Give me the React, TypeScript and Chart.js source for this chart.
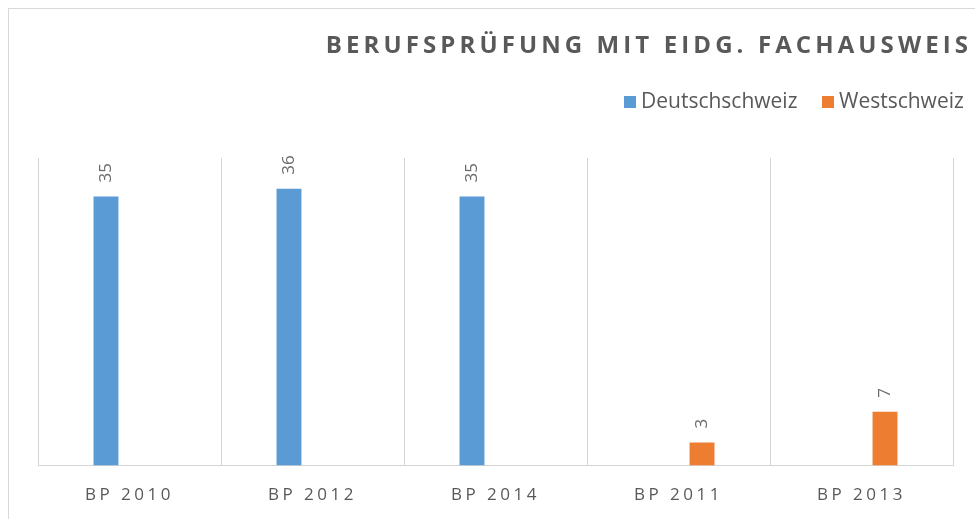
import React, { useEffect, useRef } from "react";
import { Chart, registerables } from "chart.js";

Chart.register(...registerables);

const categories = ["BP 2010", "BP 2012", "BP 2014", "BP 2011", "BP 2013"];
const deutschschweiz = [35, 36, 35, null, null];
const westschweiz = [null, null, null, 3, 7];
const seriesNames = ["Deutschschweiz", "Westschweiz"];
const seriesColors = ["#5B9BD5", "#ED7D31"];
const chartTitle = "BERUFSPRÜFUNG MIT EIDG. FACHAUSWEIS";

const TEXT = "#595959";
const FONT = '"Open Sans", "DejaVu Sans", sans-serif';

const spacingPlugin = {
  id: "spacing",
  beforeDraw(chart: any) {
    (chart.ctx as any).letterSpacing = "3.5px";
  },
  beforeDatasetsDraw(chart: any) {
    (chart.ctx as any).letterSpacing = "0px";
  },
};

const labelPlugin = {
  id: "valueLabels",
  afterDatasetsDraw(chart: any) {
    const ctx = chart.ctx;
    ctx.save();
    (ctx as any).letterSpacing = "0px";
    ctx.font = `17px ${FONT}`;
    ctx.fillStyle = "#6b6b6b";
    chart.data.datasets.forEach((ds: any, i: number) => {
      const meta = chart.getDatasetMeta(i);
      meta.data.forEach((bar: any, j: number) => {
        const v = ds.data[j];
        if (v == null) return;
        ctx.save();
        ctx.translate(bar.x, bar.y - 14);
        ctx.rotate(-Math.PI / 2);
        ctx.textAlign = "left";
        ctx.textBaseline = "middle";
        ctx.fillText(String(v), 0, 0);
        ctx.restore();
      });
    });
    ctx.restore();
  },
};

const headerPlugin = {
  id: "header",
  afterDraw(chart: any) {
    const ctx = chart.ctx;
    ctx.save();
    // title
    ctx.fillStyle = TEXT;
    ctx.font = `bold 24px ${FONT}`;
    (ctx as any).letterSpacing = "4.1px";
    ctx.textAlign = "right";
    ctx.textBaseline = "middle";
    ctx.fillText(chartTitle, 963.1, 37);
    // legend
    (ctx as any).letterSpacing = "0px";
    ctx.font = `21px ${FONT}`;
    ctx.textAlign = "left";
    const xs = [615, 813];
    seriesNames.forEach((n, i) => {
      ctx.fillStyle = seriesColors[i];
      ctx.fillRect(xs[i], 87, 12, 12);
      ctx.fillStyle = TEXT;
      ctx.fillText(n, xs[i] + 17, 93);
    });
    ctx.restore();
  },
};

export default function App() {
  const ref = useRef<HTMLCanvasElement | null>(null);
  useEffect(() => {
    if (!ref.current) return;
    const chart = new Chart(ref.current, {
      type: "bar",
      data: {
        labels: categories,
        datasets: [
          {
            label: seriesNames[0],
            data: deutschschweiz,
            backgroundColor: seriesColors[0],
            categoryPercentage: 0.514,
            barPercentage: 0.53,
          },
          {
            label: seriesNames[1],
            data: westschweiz,
            backgroundColor: seriesColors[1],
            categoryPercentage: 0.514,
            barPercentage: 0.53,
          },
        ],
      },
      options: {
        animation: false,
        responsive: true,
        maintainAspectRatio: false,
        layout: { padding: { left: 29, right: 22, top: 149, bottom: -5 } },
        plugins: {
          legend: { display: false },
          title: { display: false },
          tooltip: { enabled: false },
        },
        scales: {
          x: {
            grid: { color: "#d4d4d4", drawTicks: false, offset: true },
            border: { color: "#d4d4d4" },
            ticks: {
              padding: 19,
              color: TEXT,
              font: { size: 17, family: FONT },
            },
          },
          y: {
            display: false,
            min: 0,
            max: 40,
          },
        },
      },
      plugins: [spacingPlugin, labelPlugin, headerPlugin],
    });
    return () => chart.destroy();
  }, []);
  return (
    <div
      style={{
        position: "fixed",
        left: 8,
        top: 8,
        width: 967,
        height: 511,
        borderLeft: "1px solid #d9d9d9",
        borderTop: "1px solid #d9d9d9",
        boxSizing: "border-box",
        background: "#fff",
      }}
    >
      <div style={{ position: "relative", width: 966, height: 510 }}>
        <canvas ref={ref} />
      </div>
    </div>
  );
}
